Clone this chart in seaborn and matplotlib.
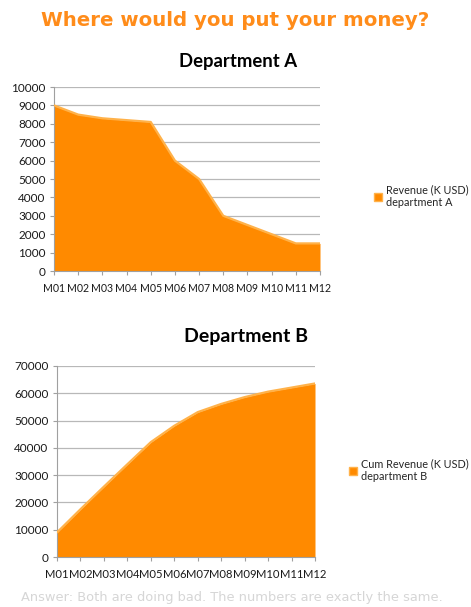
import matplotlib
matplotlib.use("Agg")
import matplotlib.pyplot as plt
import seaborn as sns
import pandas as pd
from matplotlib.patches import Patch

# Data
months = ["M01", "M02", "M03", "M04", "M05", "M06",
          "M07", "M08", "M09", "M10", "M11", "M12"]
revenue_a = [9000, 8500, 8300, 8200, 8100, 6000,
             5000, 3000, 2500, 2000, 1500, 1500]
cum_revenue_b = [9000, 17500, 25800, 34000, 42100, 48100,
                 53100, 56100, 58600, 60600, 62100, 63600]
ticks_a = [0, 1000, 2000, 3000, 4000, 5000, 6000, 7000, 8000, 9000, 10000]
ticks_b = [0, 10000, 20000, 30000, 40000, 50000, 60000, 70000]

orange = "#FF8A00"
light_orange = "#FFB24A"
grid_grey = "#B8B8B8"

sns.set_theme(style="white")
plt.rcParams["font.family"] = ["Lato", "DejaVu Sans"]

fig = plt.figure(figsize=(4.71, 6.07), dpi=100)

W, H = 471, 607


def px_axes(x0, y0, x1, y1):
    # pixel box -> figure fraction
    return fig.add_axes([x0 / W, 1 - y1 / H, (x1 - x0) / W, (y1 - y0) / H])


def area_chart(ax, values, ticks, label, legend_pos, xsize):
    df = pd.DataFrame({"month": months, "value": values, "idx": range(len(months))})
    ax.fill_between(df["idx"], df["value"], 0, color=orange, lw=0, zorder=2)
    sns.lineplot(data=df, x="idx", y="value", ax=ax, color=light_orange,
                 lw=1.6, zorder=3)
    ax.set_xlim(0, len(months) - 1)
    ax.set_ylim(ticks[0], ticks[-1])
    ax.set_yticks(ticks)
    ax.set_yticklabels([str(t) for t in ticks], fontsize=8.5, color="#1a1a1a")
    ax.set_xticks(range(len(months)))
    ax.set_xticklabels(months, fontsize=xsize, color="#1a1a1a")
    ax.set_xlabel("")
    ax.set_ylabel("")
    ax.yaxis.grid(True, color=grid_grey, lw=0.9, zorder=0)
    ax.set_axisbelow(True)
    for s in ["top", "right"]:
        ax.spines[s].set_visible(False)
    for s in ["left", "bottom"]:
        ax.spines[s].set_color("#A0A0A0")
        ax.spines[s].set_linewidth(0.8)
    ax.tick_params(axis="x", direction="out", length=3, width=0.8,
                   color="#A0A0A0", pad=6, bottom=True)
    ax.tick_params(axis="y", direction="out", length=3, width=0.8,
                   color="#A0A0A0", pad=3, left=True)
    handle = Patch(facecolor=orange, edgecolor=light_orange, label=label)
    fig.legend(handles=[handle], loc="upper left",
               bbox_to_anchor=legend_pos, frameon=False, fontsize=7.8,
               handlelength=0.75, handleheight=0.75, handletextpad=0.35,
               borderpad=0, borderaxespad=0, labelspacing=0.2)


ax_a = px_axes(54, 87, 320, 271)
area_chart(ax_a, revenue_a, ticks_a, "Revenue (K USD)\ndepartment A",
           (374 / W, 1 - 184 / H), 7.6)

ax_b = px_axes(57, 366, 315, 557)
area_chart(ax_b, cum_revenue_b, ticks_b, "Cum Revenue (K USD)\ndepartment B",
           (349 / W, 1 - 458 / H), 8.1)

fig.text(0.5, 1 - 20 / H, "Where would you put your money?", ha="center",
         va="center", fontsize=14.2, fontweight="bold", color="#FF8C1A",
         family="DejaVu Sans")
fig.text(238 / W, 1 - 62 / H, "Department A", ha="center", va="center",
         fontsize=13.3, fontweight="bold", color="black")
fig.text(246 / W, 1 - 337 / H, "Department B", ha="center", va="center",
         fontsize=14, fontweight="bold", color="black")
fig.text(232 / W, 1 - 597 / H,
         "Answer: Both are doing bad. The numbers are exactly the same.",
         ha="center", va="center", fontsize=9.4, color="#D6D6D6",
         family="DejaVu Sans")

fig.savefig("out.png", dpi=100)
